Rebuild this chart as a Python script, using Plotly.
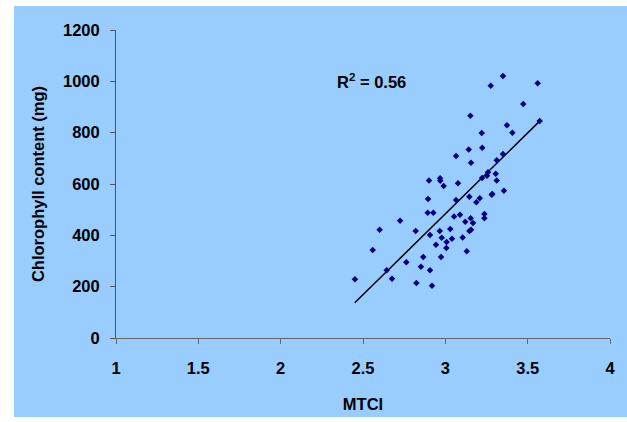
import plotly.graph_objects as go

mtci = [3.350, 3.276, 3.561, 3.473, 3.152, 3.573, 3.374, 3.221, 3.407, 3.224,
        3.142, 3.350, 3.065, 3.312, 3.156, 2.901, 2.968, 2.969, 2.990, 3.077,
        3.259, 3.306, 3.253, 3.223, 3.312, 3.356, 3.146, 3.209, 3.282, 3.285,
        3.065, 2.895, 3.188, 2.893, 2.927, 3.089, 3.053, 3.237, 3.237, 3.121,
        3.154, 3.168, 2.725, 2.601, 2.820, 2.966, 3.030, 3.146, 3.156, 2.907,
        2.978, 3.040, 3.105, 3.008, 2.943, 3.006, 3.130, 2.559, 2.866, 2.974,
        2.763, 2.852, 2.907, 2.644, 2.451, 2.676, 2.824, 2.919]
chlorophyll = [1021, 983, 993, 912, 866, 845, 829, 799, 800, 741,
               734, 717, 709, 693, 683, 614, 622, 613, 592, 603,
               646, 640, 632, 623, 614, 574, 550, 544, 558, 561,
               538, 542, 529, 488, 488, 480, 473, 483, 467, 453,
               467, 448, 457, 422, 417, 417, 425, 417, 422, 401,
               391, 387, 392, 374, 363, 351, 338, 343, 316, 316,
               295, 278, 264, 264, 229, 231, 214, 204]

trend_x = [2.45, 3.573]
trend_y = [137, 845]

x_ticks = [1, 1.5, 2, 2.5, 3, 3.5, 4]
y_ticks = [0, 200, 400, 600, 800, 1000, 1200]
r2_text = "R<sup>2</sup> = 0.56"

BLUE = "#99CCFF"
FONT = "Liberation Sans, Arial, sans-serif"

fig = go.Figure()
fig.add_trace(go.Scatter(x=trend_x, y=trend_y, mode="lines",
                         line=dict(color="black", width=1.5),
                         showlegend=False, hoverinfo="skip"))
fig.add_trace(go.Scatter(x=mtci, y=chlorophyll, mode="markers",
                         marker=dict(symbol="diamond", size=5, color="#000080"),
                         showlegend=False))

fig.add_annotation(x=2.33, y=1000, xref="x", yref="y", text=r2_text,
                   showarrow=False, xanchor="left", yanchor="middle",
                   font=dict(family=FONT, size=16.5, color="black", weight="bold"))

# outer blue chart area
fig.add_shape(type="rect", xref="paper", yref="paper",
              x0=(14 - 116) / 494, x1=(627 - 116) / 494,
              y0=(338 - 417) / 308, y1=(338 - 6) / 308,
              fillcolor=BLUE, line=dict(width=0), layer="below")

axis_font = dict(family=FONT, size=16.5, color="black", weight="bold")

fig.update_xaxes(range=[1, 4], tickvals=x_ticks, ticktext=[str(v) for v in x_ticks],
                 showgrid=False, zeroline=False, showline=True,
                 linecolor="#666666", linewidth=1, ticks="outside", ticklen=5,
                 tickcolor="#666666", tickfont=axis_font, ticklabelstandoff=10,
                 title=dict(text="MTCI", font=axis_font, standoff=22))
fig.update_yaxes(range=[0, 1200], tickvals=y_ticks, ticktext=[str(v) for v in y_ticks],
                 showgrid=False, zeroline=False, showline=True,
                 linecolor="#555555", linewidth=1, ticks="outside", ticklen=5,
                 tickcolor="#555555", tickfont=axis_font, ticklabelstandoff=7,
                 title=dict(text="Chlorophyll content (mg)", font=axis_font, standoff=14))

fig.update_layout(width=627, height=422,
                  margin=dict(l=116, r=17, t=30, b=84),
                  paper_bgcolor="white", plot_bgcolor=BLUE,
                  font=dict(family=FONT))

fig.write_html("out.html", config={"displayModeBar": False},
               post_script="document.body.style.margin='0px';")
